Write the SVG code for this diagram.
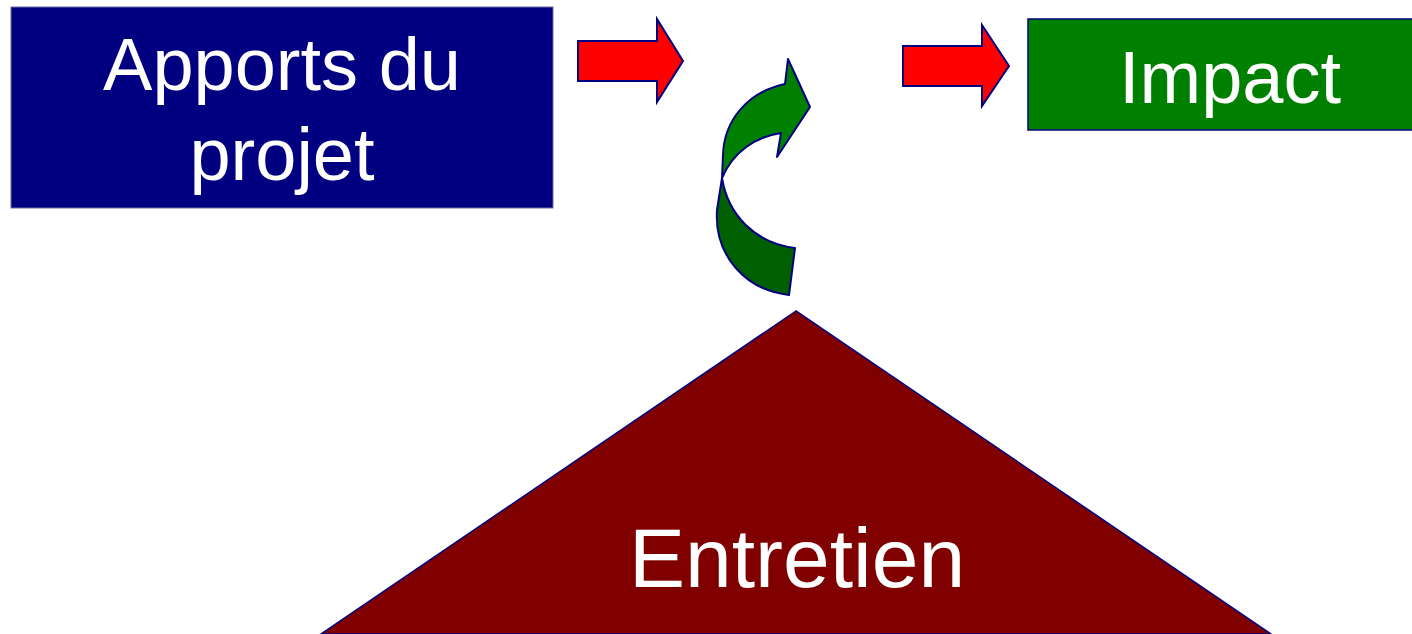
<svg xmlns="http://www.w3.org/2000/svg" width="1412" height="634" viewBox="0 0 1412 634">
<style>
.lbl{font-family:"Liberation Sans",Arial,Helvetica,sans-serif;fill:#ffffff;text-anchor:middle}
.arr{fill:#ff0000;stroke:#000080;stroke-width:2;stroke-linejoin:miter}
.curve{stroke:#000080;stroke-width:2;stroke-linejoin:round}
</style>
<rect width="1412" height="634" fill="#ffffff"/>
<g id="entretien">
<polygon points="796,311 321,634 1271,634" fill="#800000" stroke="#000080" stroke-width="1.5"/>
<text class="lbl" x="797" y="587" font-size="84">Entretien</text>
</g>
<g id="apports">
<rect x="11" y="7" width="542" height="201" fill="#000080" stroke="#6a6aa8" stroke-width="1"/>
<text class="lbl" x="282" y="90" font-size="74">Apports du</text>
<text class="lbl" x="282" y="180" font-size="74">projet</text>
</g>
<g id="impact">
<rect x="1028" y="19" width="390" height="111" fill="#008000" stroke="#000080" stroke-width="1.5"/>
<text class="lbl" x="1230" y="103" font-size="74">Impact</text>
</g>
<g id="connectors">
<polygon class="arr" points="578,41 657,41 657,19 683,61 657,102 657,81 578,81"/>
<polygon class="arr" points="903,46 982,46 982,25 1009,66 982,106 982,86 903,86"/>
<path class="curve" fill="#006000" d="M722,178 C728,215 755,243 795,248 L789,295 C745,290 714,255 717,210 Z"/>
<path class="curve" fill="#008000" d="M785,84 C748,92 724,120 723,155 L722,178 C733,152 755,137 781,133 L777,157 L810,107 L788,59 Z"/>
</g>
</svg>
